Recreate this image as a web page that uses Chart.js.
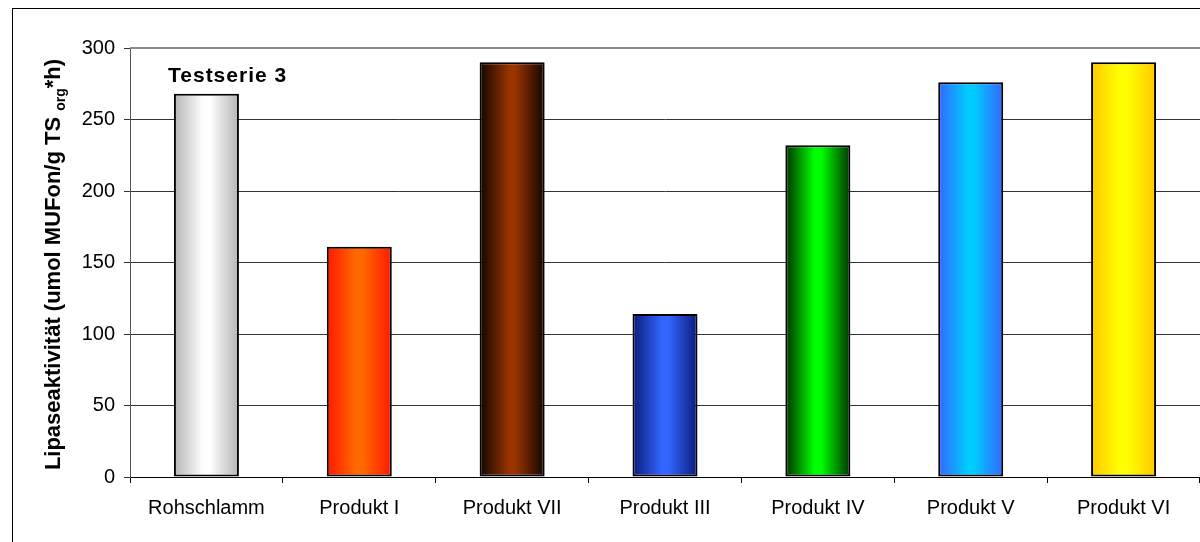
<!DOCTYPE html>
<html>
<head>
<meta charset="utf-8">
<script src="https://cdn.jsdelivr.net/npm/chart.js@4.4.1/dist/chart.umd.min.js"></script>
<style>
  html, body { margin: 0; padding: 0; background: #fff; }
  canvas { display: block; }
</style>
</head>
<body>
<canvas id="lipaseChart" width="1200" height="542"></canvas>
<script>
// Daten
const categories = ['Rohschlamm', 'Produkt I', 'Produkt VII', 'Produkt III', 'Produkt IV', 'Produkt V', 'Produkt VI'];
const lipaseValues = [268, 161, 290, 114, 232, 276, 290];
const yTickMin = 0;
const yTickMax = 300;
const yTickStep = 50;
const seriesTitle = 'Testserie 3';

// Farben: Rand / Mitte (Zylinder-Effekt)
const edgeColors = ['#b4b4b4', '#ff1800', '#120500', '#0a1a7a', '#003300', '#3366ff', '#ffc800'];
const centerColors = ['#ffffff', '#ff6a00', '#993300', '#3366ff', '#00ff00', '#00ccff', '#ffff00'];

const FONT = '"Liberation Sans", Arial, sans-serif';
const BAR_W = 65;

function barGradient(ctx) {
  const i = ctx.dataIndex;
  if (i === undefined) return centerColors[0];
  const chart = ctx.chart;
  if (!chart.chartArea) return centerColors[i];
  const x = chart.scales.x.getPixelForValue(i);
  const g = chart.ctx.createLinearGradient(x - BAR_W / 2, 0, x + BAR_W / 2, 0);
  g.addColorStop(0, edgeColors[i]);
  g.addColorStop(0.45, centerColors[i]);
  g.addColorStop(0.55, centerColors[i]);
  g.addColorStop(1, edgeColors[i]);
  return g;
}

// Rahmen, Titel, Achsentitel mit Index
const decorPlugin = {
  id: 'decor',
  beforeDraw(chart) {
    const c = chart.ctx;
    c.save();
    c.fillStyle = '#fff';
    c.fillRect(0, 0, chart.width, chart.height);
    c.strokeStyle = '#000';
    c.lineWidth = 1;
    c.strokeRect(12.5, 8.5, 3000, 3000);
    c.restore();
  },
  afterDraw(chart) {
    const c = chart.ctx;
    const a = chart.chartArea;
    c.save();
    // obere Rahmenlinie der Zeichenfläche
    c.strokeStyle = '#8a8a8a';
    c.lineWidth = 2;
    c.beginPath();
    c.moveTo(a.left, a.top);
    c.lineTo(a.right, a.top);
    c.stroke();

    // Serientitel
    c.fillStyle = '#000';
    c.font = 'bold 21px ' + FONT;
    if ('letterSpacing' in c) c.letterSpacing = '1px';
    c.textBaseline = 'alphabetic';
    c.textAlign = 'left';
    c.fillText(seriesTitle, 168, 82);
    if ('letterSpacing' in c) c.letterSpacing = '0px';

    // Y-Achsentitel (gedreht, mit tiefgestelltem "org")
    const part1 = 'Lipaseaktivität (umol MUFon/g TS';
    const sub = 'org';
    const part2 = '*h)';
    const big = 'bold 22px ' + FONT;
    const small = 'bold 14px ' + FONT;
    c.font = big;
    const w1 = c.measureText(part1 + ' ').width;
    const w3 = c.measureText(part2).width;
    c.font = small;
    const w2 = c.measureText(sub).width;
    const total = w1 + w2 + w3;
    c.translate(60, (a.top + a.bottom) / 2 + 2);
    c.rotate(-Math.PI / 2);
    let x = -total / 2;
    c.font = big;
    c.fillText(part1 + ' ', x, 0);
    x += w1;
    c.font = small;
    c.fillText(sub, x, 5);
    x += w2;
    c.font = big;
    c.fillText(part2, x, 0);
    c.restore();
  }
};

new Chart(document.getElementById('lipaseChart'), {
  type: 'bar',
  data: {
    labels: categories,
    datasets: [{
      data: lipaseValues,
      backgroundColor: barGradient,
      borderColor: '#000',
      borderWidth: 2,
      borderSkipped: false,
      categoryPercentage: 1,
      barPercentage: BAR_W / (1070 / 7)
    }]
  },
  options: {
    responsive: false,
    animation: false,
    layout: { padding: { top: 48, left: 0, right: 0, bottom: 0 } },
    plugins: {
      legend: { display: false },
      tooltip: { enabled: false }
    },
    scales: {
      x: {
        afterFit: s => { s.height = 65; },
        grid: { drawOnChartArea: false, drawTicks: true, tickLength: 6, color: '#000', offset: true },
        border: { color: '#000', width: 1 },
        ticks: { color: '#000', font: { family: FONT, size: 20 }, padding: 13, maxRotation: 0, autoSkip: false }
      },
      y: {
        min: yTickMin,
        max: yTickMax,
        afterFit: s => { s.width = 130; },
        grid: { color: '#333', lineWidth: 1, tickLength: 6, drawTicks: true },
        border: { color: '#555', width: 1 },
        ticks: { stepSize: yTickStep, color: '#000', font: { family: FONT, size: 20 }, padding: 9 }
      }
    }
  },
  plugins: [decorPlugin]
});
</script>
</body>
</html>
